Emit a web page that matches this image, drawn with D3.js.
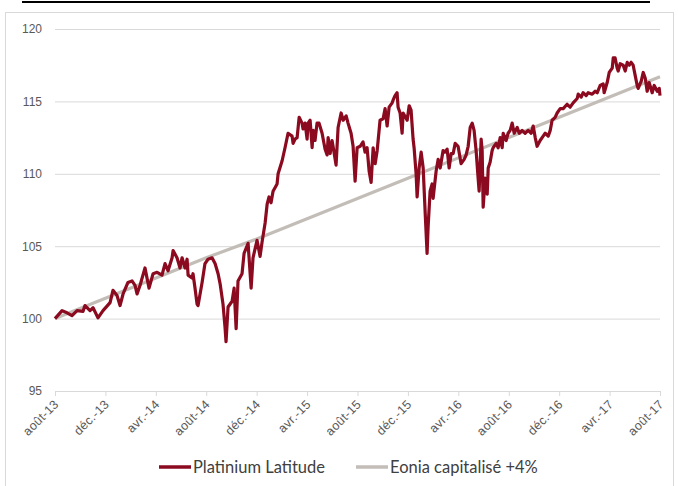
<!DOCTYPE html>
<html>
<head>
<meta charset="utf-8">
<script src="https://cdn.jsdelivr.net/npm/d3@7"></script>
<style>
  body { margin: 0; background: #fff; }
  svg { display: block; font-family: Lato, "Open Sans", sans-serif; }
</style>
</head>
<body>
<svg id="chart" width="678" height="486"></svg>
<script>
// x ticks : one label every 4 months, from août-13 (month 0) to août-17 (month 48)
const tickLabels = ["août-13", "déc.-13", "avr.-14", "août-14", "déc.-14", "avr.-15",
  "août-15", "déc.-15", "avr.-16", "août-16", "déc.-16", "avr.-17", "août-17"];
const tickMonths = [0, 4, 8, 12, 16, 20, 24, 28, 32, 36, 40, 44, 48];
const yTicks = [95, 100, 105, 110, 115, 120];

// Eonia capitalisé +4% (value at each tick month)
const eonia = [100, 101.4, 102.8, 104.2, 105.5, 106.9, 108.3, 109.7, 111.1, 112.5, 113.9, 115.3, 116.7];

// Platinium Latitude : [month since août-13, value]
const platinium = [
  [0, 100.0], [0.56, 100.55], [0.95, 100.4], [1.35, 100.2], [1.75, 100.55], [2.22, 100.5],
  [2.38, 100.9], [2.78, 100.55], [3.02, 100.75], [3.41, 100.05], [3.81, 100.55], [4.37, 101.1],
  [4.6, 101.95], [4.92, 101.6], [5.16, 100.9], [5.4, 101.7], [5.79, 102.5], [6.11, 102.6],
  [6.35, 102.3], [6.51, 101.7], [6.75, 102.3], [7.14, 103.5], [7.46, 102.1], [7.78, 103.1],
  [8.1, 103.2], [8.49, 103.0], [8.73, 103.8], [8.97, 103.3], [9.29, 104.2], [9.37, 104.7],
  [9.68, 104.2], [9.92, 103.5], [10.08, 104.2], [10.32, 103.5], [10.48, 104.1], [10.56, 103.0],
  [10.87, 102.8], [10.95, 103.1], [11.11, 102.1], [11.27, 101.0], [11.35, 100.9], [11.67, 102.5],
  [11.9, 103.8], [12.14, 104.1], [12.46, 104.2], [12.7, 103.8], [12.94, 103.1], [13.1, 102.4],
  [13.33, 101.0], [13.49, 99.4], [13.57, 98.4], [13.73, 100.8], [14.05, 101.2], [14.21, 102.1],
  [14.37, 99.3], [14.52, 102.6], [14.84, 103.1], [15.0, 104.5], [15.32, 105.2], [15.56, 102.1],
  [15.71, 104.2], [16.03, 105.4], [16.27, 104.3], [16.43, 105.3], [16.67, 106.6], [16.83, 107.9],
  [16.98, 108.4], [17.14, 108.0], [17.3, 108.8], [17.62, 109.3], [17.7, 110.0], [18.02, 110.9],
  [18.25, 111.8], [18.49, 112.8], [18.81, 112.6], [18.89, 112.1], [19.05, 112.4], [19.21, 112.5],
  [19.37, 113.9], [19.6, 113.5], [19.68, 113.1], [19.84, 113.5], [20.0, 112.4], [20.08, 113.5],
  [20.24, 113.7], [20.4, 111.8], [20.48, 113.0], [20.63, 112.3], [20.79, 113.5], [20.95, 113.5],
  [21.19, 112.8], [21.43, 111.7], [21.59, 111.3], [21.67, 112.5], [21.83, 111.4], [21.98, 112.3],
  [22.06, 111.9], [22.3, 110.6], [22.46, 113.2], [22.7, 114.2], [22.86, 113.7], [23.1, 114.0],
  [23.25, 113.5], [23.49, 112.8], [23.65, 111.9], [23.81, 109.5], [23.97, 111.8], [24.21, 111.9],
  [24.44, 112.2], [24.6, 111.5], [24.76, 111.8], [24.92, 110.2], [25.08, 109.4], [25.24, 111.8],
  [25.4, 110.7], [25.56, 111.6], [25.79, 113.7], [26.03, 113.8], [26.19, 114.5], [26.35, 113.3],
  [26.51, 114.6], [26.75, 114.9], [26.83, 115.1], [26.98, 115.4], [27.14, 115.6], [27.22, 114.6],
  [27.38, 114.2], [27.54, 112.8], [27.62, 114.2], [27.94, 113.7], [28.1, 114.7], [28.25, 114.4],
  [28.41, 112.4], [28.49, 111.8], [28.65, 110.0], [28.73, 108.4], [28.89, 110.4], [29.05, 111.5],
  [29.21, 110.4], [29.37, 107.3], [29.52, 104.5], [29.6, 106.3], [29.76, 108.8], [29.92, 109.3],
  [30.0, 108.3], [30.24, 110.2], [30.4, 111.0], [30.56, 110.4], [30.79, 111.6], [30.95, 111.5],
  [31.11, 111.7], [31.27, 110.4], [31.43, 111.4], [31.59, 111.4], [31.75, 112.1], [31.98, 111.9],
  [32.22, 110.7], [32.46, 111.0], [32.62, 111.3], [32.78, 111.9], [32.94, 113.2], [33.1, 113.5],
  [33.25, 113.0], [33.41, 111.6], [33.57, 109.7], [33.65, 108.8], [33.81, 112.4], [33.89, 111.6],
  [33.97, 107.7], [34.13, 109.7], [34.29, 108.6], [34.37, 110.4], [34.52, 110.8], [34.68, 111.6],
  [34.76, 111.8], [35.0, 112.1], [35.16, 111.8], [35.32, 112.5], [35.48, 111.8], [35.56, 112.8],
  [35.79, 112.3], [35.95, 112.8], [36.11, 113.0], [36.27, 113.5], [36.43, 112.8], [36.67, 113.2],
  [36.83, 112.8], [37.06, 113.0], [37.3, 112.8], [37.54, 113.0], [37.78, 112.8], [37.94, 113.3],
  [38.1, 112.5], [38.25, 111.9], [38.49, 112.3], [38.73, 112.6], [38.89, 112.8], [39.13, 112.6],
  [39.29, 113.0], [39.44, 113.7], [39.68, 113.9], [39.84, 114.2], [40.08, 114.5], [40.32, 114.5],
  [40.63, 114.8], [40.87, 114.6], [41.11, 114.9], [41.43, 115.2], [41.51, 115.5], [41.75, 115.3],
  [41.9, 115.6], [42.14, 115.4], [42.3, 115.6], [42.62, 115.5], [42.86, 115.7], [43.02, 115.6],
  [43.25, 116.1], [43.49, 116.2], [43.57, 115.6], [43.81, 116.3], [43.97, 117.0], [44.21, 117.3],
  [44.29, 118.0], [44.44, 118.0], [44.6, 117.3], [44.68, 117.1], [44.84, 117.6], [45.08, 117.5],
  [45.24, 117.1], [45.4, 117.7], [45.56, 117.5], [45.71, 117.7], [45.87, 117.5], [46.03, 116.8],
  [46.19, 116.1], [46.27, 115.9], [46.51, 116.4], [46.67, 117.0], [46.83, 116.6], [46.98, 115.7],
  [47.14, 116.3], [47.38, 115.6], [47.54, 116.1], [47.78, 115.7], [47.94, 115.9], [48.0, 115.4]
];

const width = 678, height = 486;
const marginLeft = 55, marginRight = 18, marginTop = 29, marginBottom = 95;
const red = "#8b0a1f", grey = "#c3bdb8", gridColor = "#d9d9d9", textColor = "#595959";

const svg = d3.select("#chart");

// cadre et filet de titre
svg.append("rect")
  .attr("x", 5.5).attr("y", 12.5)
  .attr("width", 668).attr("height", 480)
  .attr("fill", "none").attr("stroke", gridColor);
svg.append("line")
  .attr("x1", 22).attr("x2", 650).attr("y1", 2).attr("y2", 2)
  .attr("stroke", "#000").attr("stroke-width", 2);

const x = d3.scaleLinear([0, 48], [marginLeft, width - marginRight]);
const y = d3.scaleLinear([95, 120], [height - marginBottom, marginTop]);

// axe Y + grille
const gy = svg.append("g").attr("transform", `translate(${marginLeft},0)`)
  .call(d3.axisLeft(y).tickValues(yTicks).tickSize(0).tickPadding(13));
gy.select(".domain").remove();
gy.selectAll(".tick text").style("fill", textColor).style("font-size", "12px");
gy.selectAll(".tick line")
  .attr("x1", 0).attr("x2", width - marginLeft - marginRight)
  .style("stroke", gridColor);

// axe X
const gx = svg.append("g").attr("transform", `translate(0,${height - marginBottom})`)
  .call(d3.axisBottom(x).tickValues(tickMonths).tickSize(5)
    .tickFormat((d, i) => tickLabels[i]));
gx.select(".domain").style("stroke", gridColor);
gx.selectAll(".tick line").style("stroke", gridColor);
gx.selectAll(".tick text")
  .style("fill", textColor).style("font-size", "12.5px")
  .style("letter-spacing", "0.3px")
  .attr("text-anchor", "end")
  .attr("dy", null).attr("y", 0)
  .attr("transform", "translate(4,14) rotate(-45)");

const line = d3.line().x(d => x(d[0])).y(d => y(d[1]));

svg.append("path")
  .attr("fill", "none").attr("stroke", grey).attr("stroke-width", 3.2)
  .attr("d", line(eonia.map((v, i) => [tickMonths[i], v])));

svg.append("path")
  .attr("fill", "none").attr("stroke", red).attr("stroke-width", 3.2)
  .attr("stroke-linejoin", "round")
  .attr("d", line(platinium));

// légende
const legend = [
  {name: "Platinium Latitude", color: red, x: 159},
  {name: "Eonia capitalisé +4%", color: grey, x: 356}
];
const lg = svg.append("g").attr("transform", "translate(0,467)");
legend.forEach(l => {
  lg.append("line").attr("x1", l.x).attr("x2", l.x + 32)
    .attr("stroke", l.color).attr("stroke-width", 3.5);
  lg.append("text").attr("x", l.x + 34).attr("dy", "0.36em")
    .style("fill", "#404040").style("font-size", "16.5px")
    .text(l.name);
});
</script>
</body>
</html>
